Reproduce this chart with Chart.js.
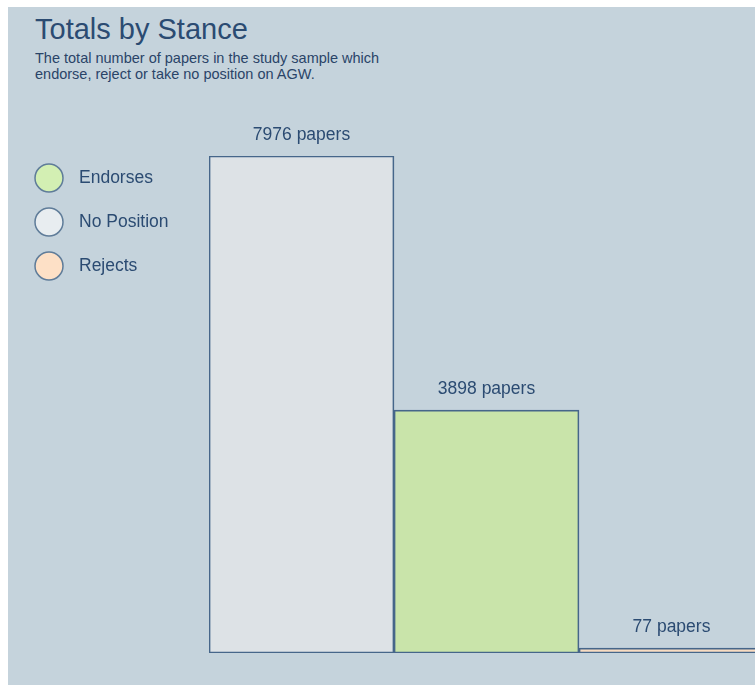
<!DOCTYPE html>
<html>
<head>
<meta charset="utf-8">
<script src="https://cdn.jsdelivr.net/npm/chart.js@4"></script>
<style>
  html, body { margin: 0; padding: 0; background: #ffffff; overflow: hidden; width: 755px; height: 685px; }
  #panel { position: absolute; left: 8px; top: 7px; right: 0; bottom: 0; background: #c5d3dc; }
  #title { position: absolute; left: 35px; top: 13px; font: 29px "Liberation Sans", Arial, sans-serif; color: #2b4b72; margin: 0; font-weight: normal; }
  #subtitle { position: absolute; left: 35px; top: 51px; font: 14.5px/15.5px "Liberation Sans", Arial, sans-serif; color: #2a4468; margin: 0; }
  #wrap { position: absolute; left: 0; top: 0; width: 780px; height: 685px; }
</style>
</head>
<body>
<div id="panel"></div>
<h1 id="title">Totals by Stance</h1>
<p id="subtitle">The total number of papers in the study sample which<br>endorse, reject or take no position on AGW.</p>
<div id="wrap"><canvas id="chart"></canvas></div>
<script>
// bars, left to right
const categories = ['No Position', 'Endorses', 'Rejects'];
const paperCounts = [7976, 3898, 77];
const barColors = ['#dde2e6', '#c9e4aa', '#f9dcc2'];

// legend, top to bottom
const legendLabels = ['Endorses', 'No Position', 'Rejects'];
const legendColors = ['#d3efb3', '#e8edf0', '#fde0c6'];

const textColor = '#2b4b72';
const edgeColor = '#46668a';

// draw "N papers" above each bar
const barLabels = {
  id: 'barLabels',
  afterDatasetsDraw(chart) {
    const ctx = chart.ctx;
    const meta = chart.getDatasetMeta(0);
    ctx.save();
    ctx.font = '17.5px "Liberation Sans", Arial, sans-serif';
    ctx.fillStyle = textColor;
    ctx.textAlign = 'center';
    ctx.textBaseline = 'alphabetic';
    meta.data.forEach((bar, i) => {
      ctx.fillText(paperCounts[i] + ' papers', bar.x, bar.y - 16);
    });
    ctx.restore();
  }
};

// circle legend on the left
const circleLegend = {
  id: 'circleLegend',
  afterDraw(chart) {
    const ctx = chart.ctx;
    ctx.save();
    ctx.font = '17.5px "Liberation Sans", Arial, sans-serif';
    ctx.textBaseline = 'middle';
    legendLabels.forEach((label, i) => {
      const cy = 178 + i * 44;
      ctx.beginPath();
      ctx.arc(49, cy, 14, 0, Math.PI * 2);
      ctx.fillStyle = legendColors[i];
      ctx.fill();
      ctx.lineWidth = 1.5;
      ctx.strokeStyle = '#5f7c99';
      ctx.stroke();
      ctx.fillStyle = textColor;
      ctx.fillText(label, 79, cy);
    });
    ctx.restore();
  }
};

new Chart(document.getElementById('chart'), {
  type: 'bar',
  data: {
    labels: categories,
    datasets: [{
      data: paperCounts,
      backgroundColor: barColors,
      borderColor: edgeColor,
      borderWidth: 1.7,
      borderSkipped: false,
      categoryPercentage: 1,
      barPercentage: 1
    }]
  },
  options: {
    responsive: true,
    maintainAspectRatio: false,
    animation: false,
    layout: { padding: { left: 209, right: 16, top: 156, bottom: 32 } },
    scales: {
      x: { display: false },
      y: { display: false, min: 0, max: Math.max(...paperCounts) }
    },
    plugins: {
      legend: { display: false },
      tooltip: { enabled: false }
    }
  },
  plugins: [barLabels, circleLegend]
});
</script>
</body>
</html>
